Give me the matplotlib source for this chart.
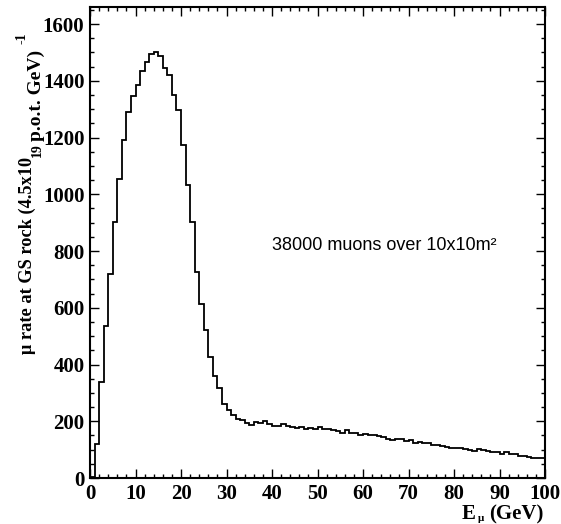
import matplotlib
matplotlib.use("Agg")
import matplotlib.pyplot as plt
import numpy as np

# ---- data (100 bins of 1 GeV, 0..100 GeV) ----
bin_edges_gev = list(range(0, 101))
rate_values = [
    3, 120, 337, 537, 720, 902, 1054, 1190, 1289, 1345,
    1384, 1434, 1466, 1496, 1500, 1488, 1444, 1419, 1350, 1296,
    1173, 1034, 901, 726, 612, 520, 426, 359, 316, 262,
    238, 223, 209, 203, 195, 188, 197, 195, 202, 190,
    185, 183, 189, 183, 178, 177, 180, 173, 177, 173,
    179, 172, 172, 168, 164, 160, 168, 158, 158, 152,
    154, 152, 150, 147, 145, 138, 133, 136, 138, 129,
    133, 123, 126, 124, 123, 117, 115, 114, 109, 107,
    107, 104, 103, 97, 96, 102, 97, 95, 92, 90,
    83, 92, 85, 84, 79, 78, 75, 72, 71, 70,
]
x_ticks = [0, 10, 20, 30, 40, 50, 60, 70, 80, 90, 100]
x_tick_labels = [str(v) for v in x_ticks]
y_ticks = [0, 200, 400, 600, 800, 1000, 1200, 1400, 1600]
y_tick_labels = [str(v) for v in y_ticks]
annotation = "38000 muons over 10x10m\u00b2"

W, H = 561, 524
fig = plt.figure(figsize=(W / 100, H / 100), dpi=100)
ax = fig.add_axes([90 / W, 1 - 478 / H, 455 / W, 471 / H])

ax.stairs(rate_values, bin_edges_gev, baseline=0, color="black", linewidth=1.3)

ax.set_xlim(0, 100)
ax.set_ylim(0, 1660)

serif = ["Liberation Serif", "DejaVu Serif"]
ax.set_xticks(x_ticks)
ax.set_xticklabels(x_tick_labels, family=serif, fontweight="bold", fontsize=15)
ax.set_yticks(y_ticks)
ax.set_yticklabels(y_tick_labels, family=serif, fontweight="bold", fontsize=15)
ax.set_xticks(np.arange(0, 101, 2), minor=True)
ax.set_yticks(np.arange(0, 1661, 50), minor=True)
ax.tick_params(which="both", direction="in", top=True, right=True, width=1.0)
ax.tick_params(which="major", length=6.5)
ax.tick_params(which="minor", length=3)
ax.tick_params(axis="y", pad=4)
ax.tick_params(axis="x", pad=4)
for sp in ax.spines.values():
    sp.set_linewidth(1.5)

ax.text(40, 820, annotation, family=["Liberation Sans", "DejaVu Sans"],
        fontsize=13, va="center", ha="left")


def fx(px):
    return px / W


def fy(py):
    return 1 - py / H


bold = dict(family=serif, fontweight="bold")
# y-axis title pieces (ROOT-style layout)
fig.text(fx(27), fy(354), "\u03bc rate at GS rock (4.5x10", rotation=90,
         ha="center", va="bottom", fontsize=13.2, **bold)
fig.text(fx(37), fy(157), "19", rotation=90, ha="center", va="bottom",
         fontsize=10, **bold)
fig.text(fx(36), fy(141), "p.o.t. GeV)", rotation=90, ha="center",
         va="bottom", fontsize=14, **bold)
fig.text(fx(22), fy(44), "-1", rotation=90, ha="center", va="bottom",
         fontsize=10, **bold)

# x-axis title pieces
fig.text(fx(462), fy(519), "E", ha="left", va="baseline", fontsize=15, **bold)
fig.text(fx(478), fy(521), "\u03bc", ha="left", va="baseline", fontsize=8, **bold)
fig.text(fx(489), fy(519), "(GeV)", ha="left", va="baseline", fontsize=15, **bold)

fig.savefig("out.png", dpi=100)
